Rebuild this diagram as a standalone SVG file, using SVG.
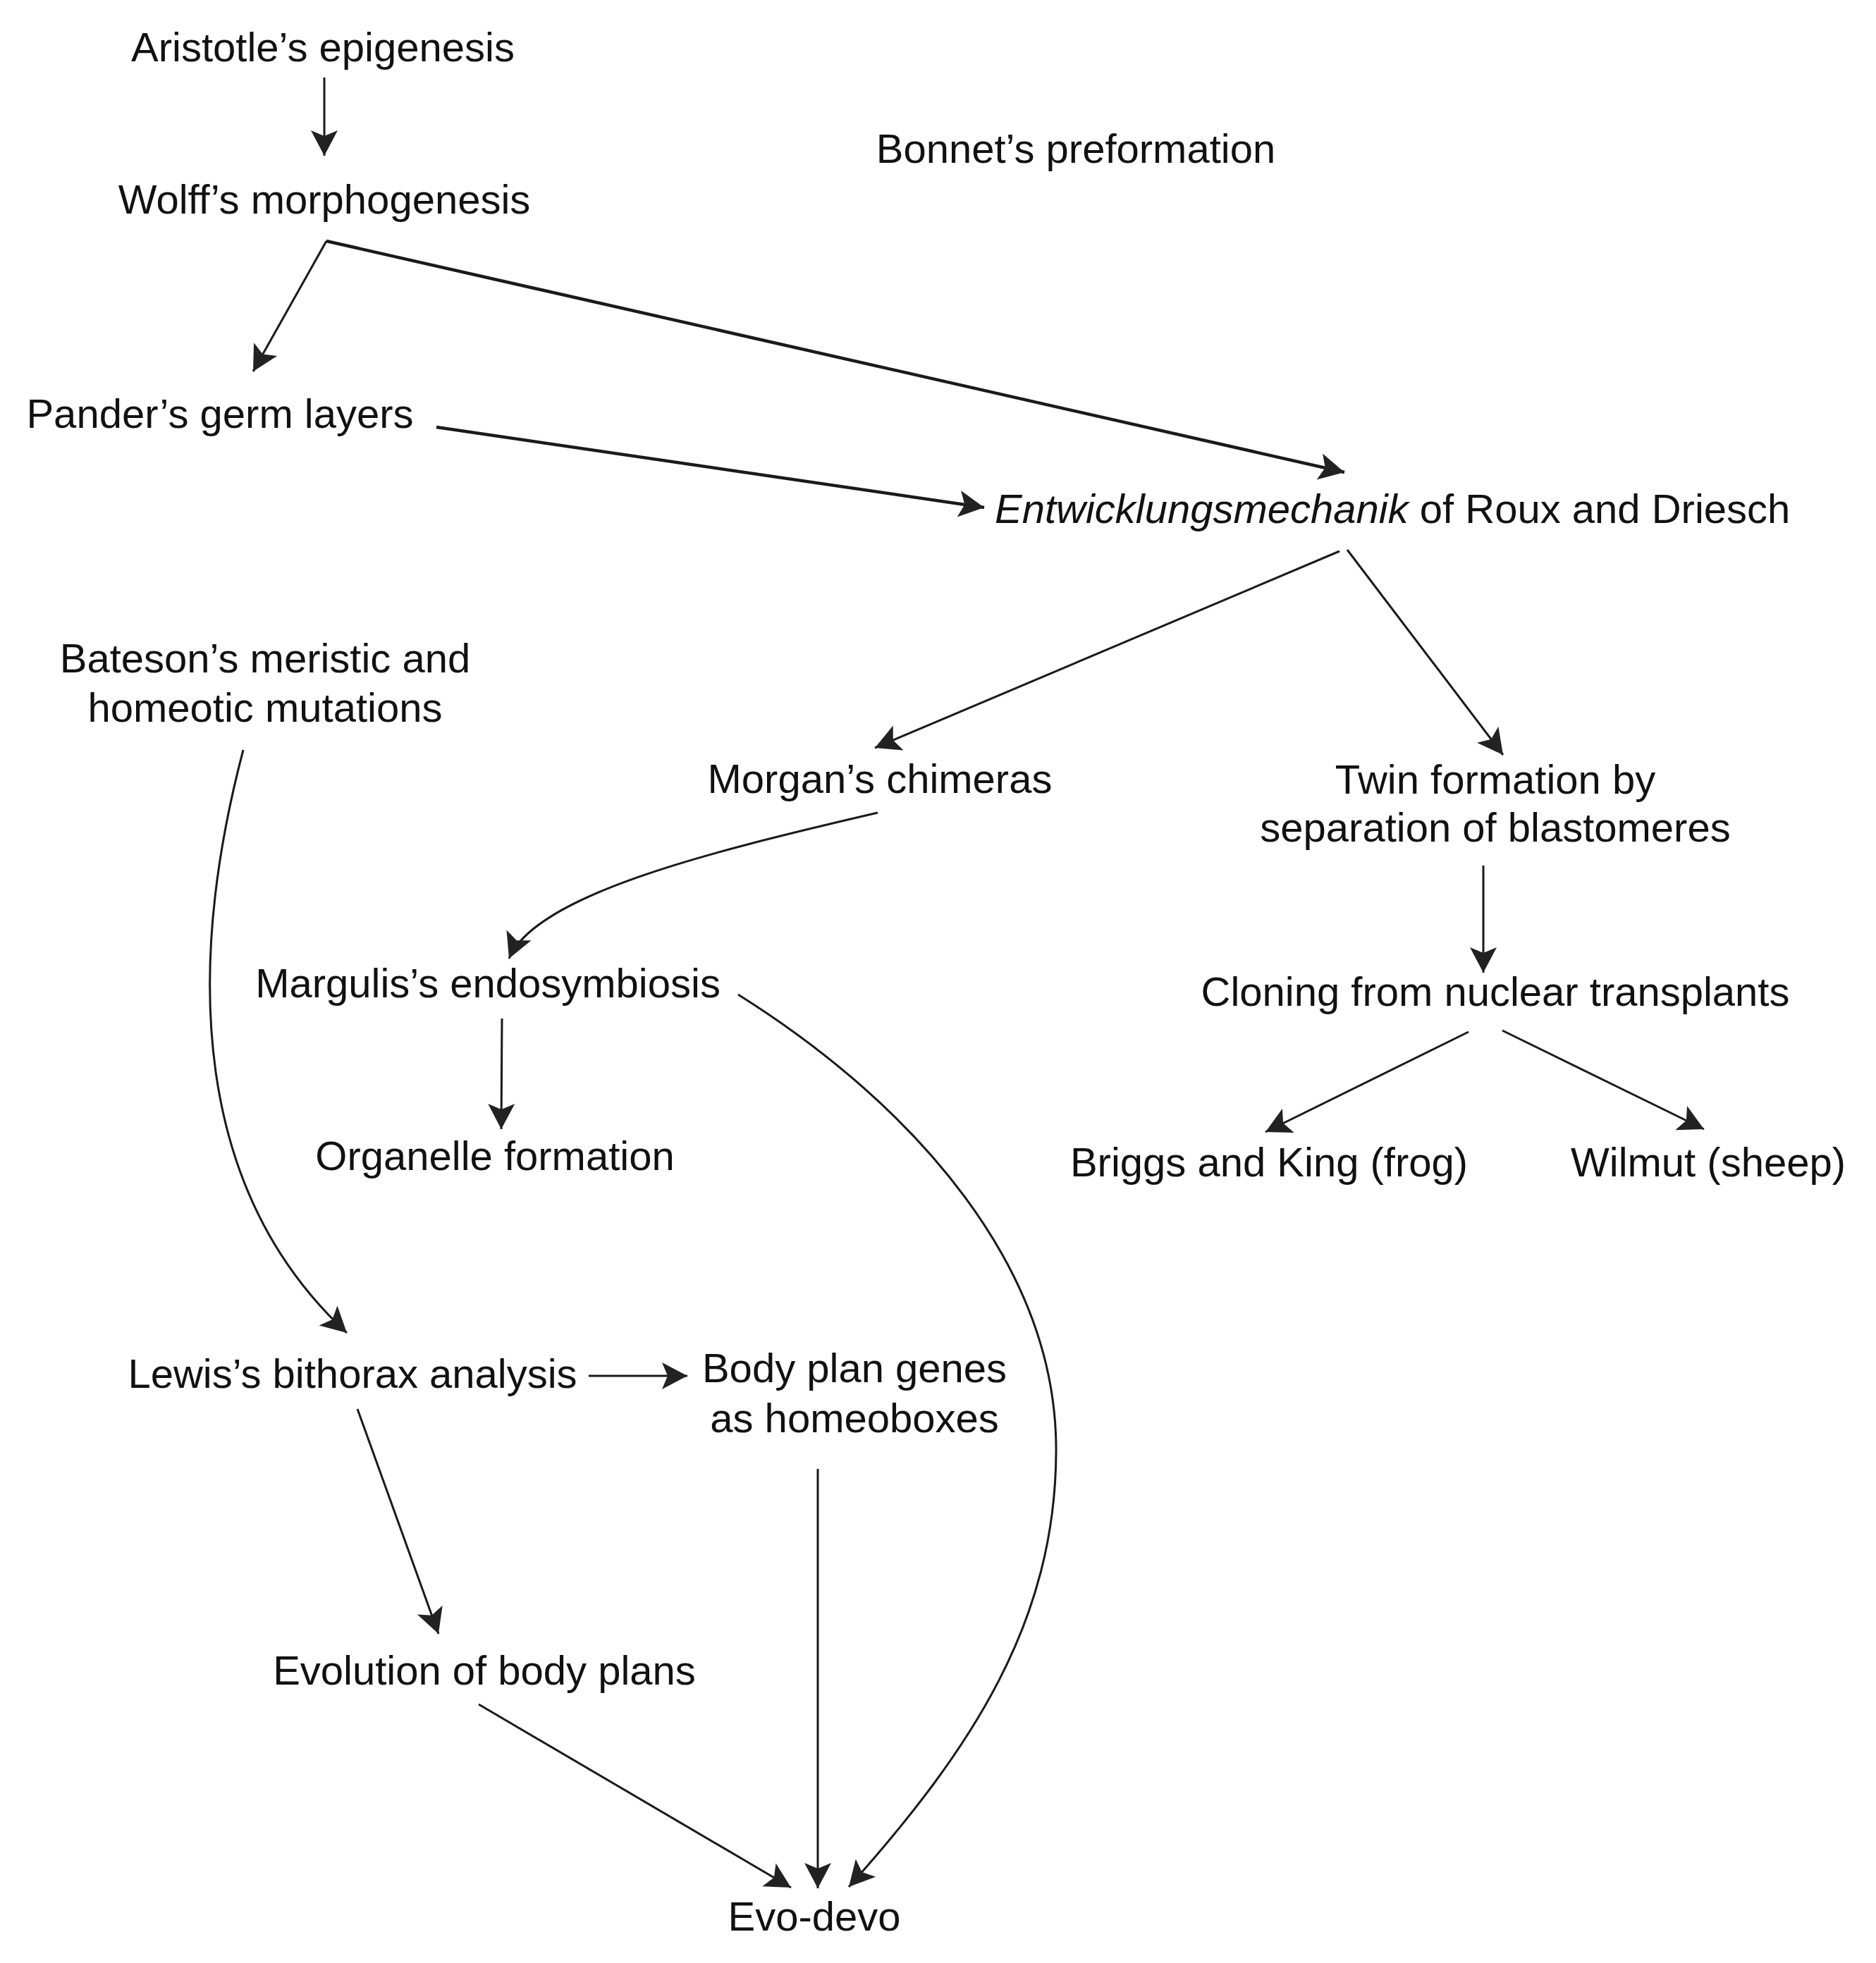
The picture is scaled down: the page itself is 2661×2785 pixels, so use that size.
<svg xmlns="http://www.w3.org/2000/svg" width="2661" height="2785" viewBox="0 0 2661 2785">
<defs>
<marker id="ah" markerUnits="userSpaceOnUse" viewBox="-40 -22 42 44" refX="0" refY="0" markerWidth="42" markerHeight="44" orient="auto">
<path d="M0,0 L-36,-19 L-28,0 L-36,19 Z" fill="#222"/>
</marker>
<style>
text{font-family:"Liberation Sans",Arial,Helvetica,sans-serif;font-size:58px;fill:#111}
.c{text-anchor:middle}
.e{stroke:#1a1a1a;stroke-width:3;fill:none;marker-end:url(#ah)}
.t{stroke-width:4.5}
</style>
</defs>
<rect width="2661" height="2785" fill="#fff"/>
<g id="connectors">
<path class="e" d="M460,110 L460,221"/>
<path class="e" d="M463,342 L359,527"/>
<path class="e t" d="M463,342 L1907,670"/>
<path class="e t" d="M619,606 L1396,720"/>
<path class="e" d="M1900,782 L1241,1061"/>
<path class="e" d="M1911,780 L2132,1071"/>
<path class="e" d="M1245,1153 C1000,1210 760,1270 722,1360"/>
<path class="e" d="M2104,1228 L2104,1380"/>
<path class="e" d="M2083,1464 L1795,1606"/>
<path class="e" d="M2131,1462 L2417,1602"/>
<path class="e" d="M345,1064 C262,1380 275,1690 492,1891"/>
<path class="e" d="M712,1445 L711,1602"/>
<path class="e" d="M1047,1411 C1300,1570 1500,1800 1498,2060 C1497,2300 1380,2480 1204,2677"/>
<path class="e" d="M835,1952 L975,1952"/>
<path class="e" d="M507,1999 L622,2318"/>
<path class="e" d="M1160,2084 L1160,2679"/>
<path class="e" d="M679,2418 L1122,2678"/>
</g>
<g id="n-aristotle"><text class="c" x="458" y="87">Aristotle’s epigenesis</text></g>
<g id="n-bonnet"><text class="c" x="1526" y="231">Bonnet’s preformation</text></g>
<g id="n-wolff"><text class="c" x="460" y="303">Wolff’s morphogenesis</text></g>
<g id="n-pander"><text class="c" x="312" y="607">Pander’s germ layers</text></g>
<g id="n-entw"><text x="1411" y="742"><tspan font-style="italic">Entwicklungsmechanik</tspan> of Roux and Driesch</text></g>
<g id="n-bateson"><text class="c" x="376" y="954">Bateson’s meristic and</text><text class="c" x="376" y="1024">homeotic mutations</text></g>
<g id="n-morgan"><text class="c" x="1248" y="1125">Morgan’s chimeras</text></g>
<g id="n-twin"><text class="c" x="2121" y="1126">Twin formation by</text><text class="c" x="2121" y="1194">separation of blastomeres</text></g>
<g id="n-margulis"><text class="c" x="692" y="1415">Margulis’s endosymbiosis</text></g>
<g id="n-cloning"><text class="c" x="2121" y="1427">Cloning from nuclear transplants</text></g>
<g id="n-organelle"><text class="c" x="702" y="1660">Organelle formation</text></g>
<g id="n-briggs"><text class="c" x="1800" y="1669">Briggs and King (frog)</text></g>
<g id="n-wilmut"><text class="c" x="2423" y="1669">Wilmut (sheep)</text></g>
<g id="n-lewis"><text class="c" x="500" y="1969">Lewis’s bithorax analysis</text></g>
<g id="n-bodyplan"><text class="c" x="1212" y="1961">Body plan genes</text><text class="c" x="1212" y="2032">as homeoboxes</text></g>
<g id="n-evolution"><text class="c" x="687" y="2390">Evolution of body plans</text></g>
<g id="n-evodevo"><text class="c" x="1155" y="2739">Evo-devo</text></g>
</svg>
